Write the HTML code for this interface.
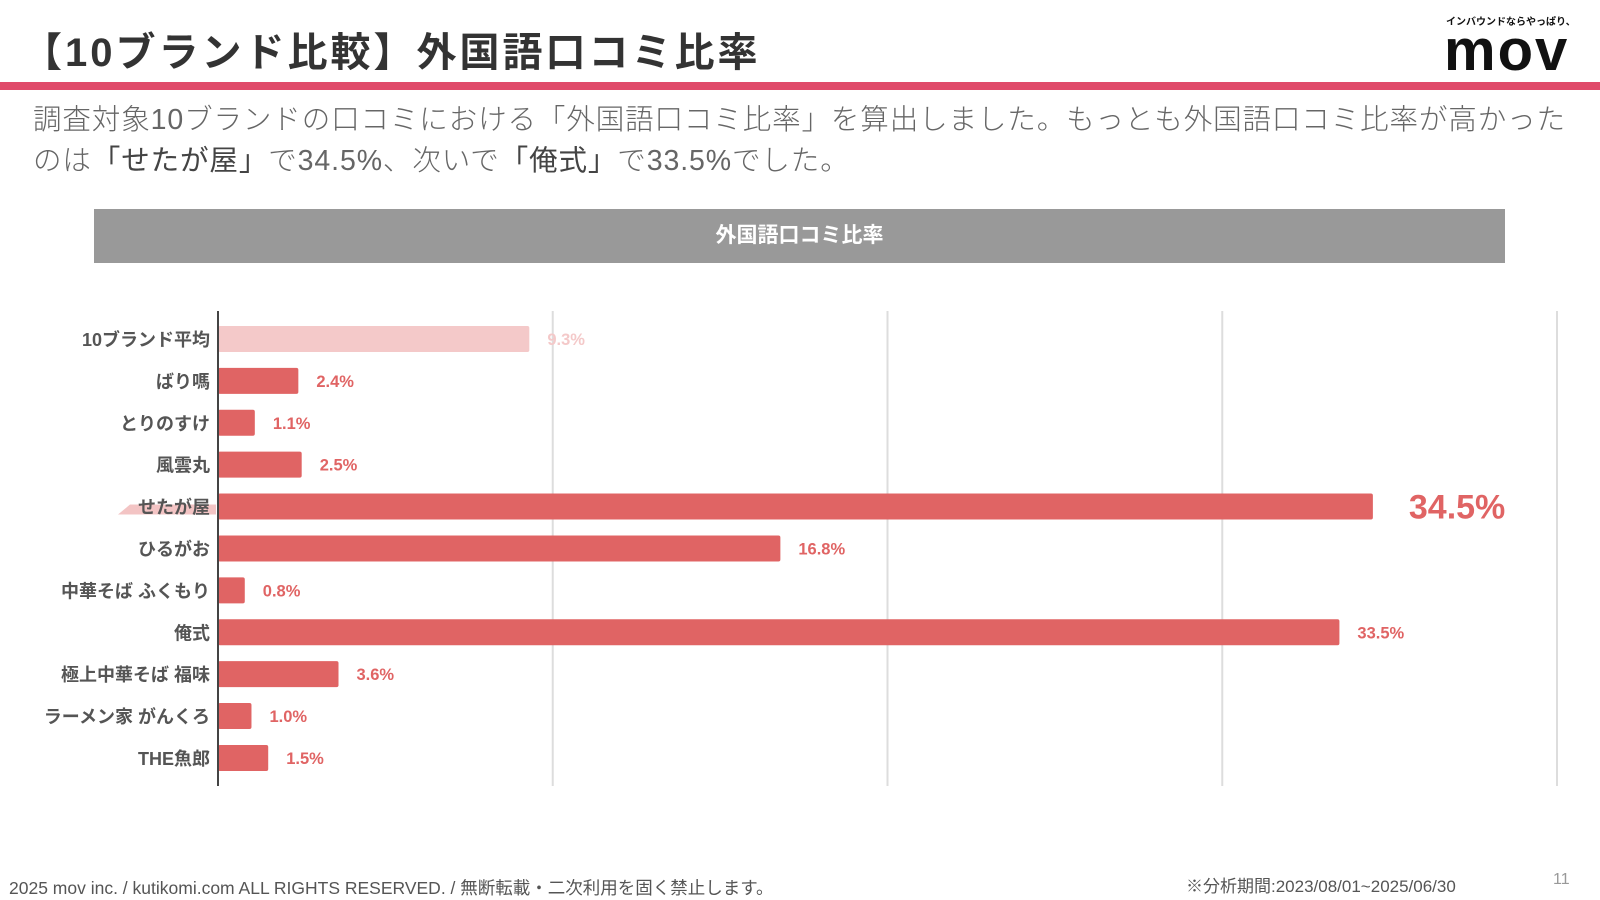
<!DOCTYPE html>
<html><head><meta charset="utf-8">
<style>
body{margin:0;width:1600px;height:900px;background:#fff;position:relative;overflow:hidden;font-family:"Liberation Sans","Noto Sans CJK JP",sans-serif;color:#444}
.abs{position:absolute}
</style></head><body>
<div class="abs" style="left:22px;top:20px;font-size:40px;font-weight:bold;color:#333;letter-spacing:3px">【10ブランド比較】外国語口コミ比率</div>
<div class="abs" style="left:1446px;top:13px;font-size:10px;font-weight:bold;color:#111">インバウンドならやっぱり、</div>
<div class="abs" style="left:1444px;top:16px;font-size:58px;font-weight:bold;color:#111;letter-spacing:2px;line-height:70px">mov</div>
<div class="abs" style="left:0;top:82px;width:1600px;height:8px;background:#e04a6a"></div>
<div class="abs" style="left:33px;top:100px;font-size:28.5px;line-height:41px;color:#666;font-weight:300;width:1570px;letter-spacing:0.9px">調査対象10ブランドの口コミにおける「外国語口コミ比率」を算出しました。もっとも外国語口コミ比率が高かった<br>のは<b style="color:#444">「せたが屋」</b>で34.5%、次いで<b style="color:#444">「俺式」</b>で33.5%でした。</div>
<div class="abs" style="left:94px;top:209px;width:1411px;height:54px;background:#999;color:#fff;font-size:21px;font-weight:bold;text-align:center;line-height:54px">外国語口コミ比率</div>
<svg class="abs" style="left:0;top:0" width="1600" height="900" id="chart"></svg>
<div class="abs" style="left:9px;top:875px;font-size:17.5px;color:#555">2025 mov inc. / kutikomi.com ALL RIGHTS RESERVED. / 無断転載・二次利用を固く禁止します。</div>
<div class="abs" style="left:1186px;top:872px;font-size:17px;color:#555">※分析期間:2023/08/01~2025/06/30</div>
<div class="abs" style="left:1553px;top:871px;font-size:16px;color:#999">11</div>
<script>
const categories=["10ブランド平均","ばり嗎","とりのすけ","風雲丸","せたが屋","ひるがお","中華そば ふくもり","俺式","極上中華そば 福味","ラーメン家 がんくろ","THE魚郎"];
const values=[9.3,2.4,1.1,2.5,34.5,16.8,0.8,33.5,3.6,1.0,1.5];
const ticks=[0,10,20,30,40];
const highlight="せたが屋";
const NS="http://www.w3.org/2000/svg";
const svg=document.getElementById('chart');
const x0=218,x1=1557,xmax=40,top0=318,step=41.9,bh=26;
const xs=v=>x0+(x1-x0)*v/xmax;
const yc=i=>top0+step*i+step/2;
function mk(t,a){const e=document.createElementNS(NS,t);for(const k in a)e.setAttribute(k,a[k]);svg.appendChild(e);return e;}
ticks.forEach((t,i)=>{if(t===0)return;const g=mk('line',{x1:xs(t),x2:xs(t),y1:311,y2:786,stroke:'#ddd','stroke-width':2});

});
categories.forEach((c,i)=>{
 const y=yc(i),avg=i===0,hi=c===highlight;
 if(hi){const p=mk('polygon',{points:`${118},${y+8} ${130},${y-2} ${216},${y-2} ${216},${y+8}`,fill:'#f3c4c4'});
 
 }
 const l=mk('text',{x:210,y:y+7,'text-anchor':'end','font-size':18,'font-weight':'bold',fill:'#555'});l.textContent=c;
 
 
 const r=mk('rect',{x:x0,y:y-bh/2,width:xs(values[i])-x0,height:bh,rx:2,fill:avg?'#f4c9c9':'#e06464'});
 
 
 const v=mk('text',{x:xs(values[i])+(hi?36:18),y:y+(hi?12:6),'font-size':hi?34:16.5,'font-weight':'bold',fill:avg?'#f4c9c9':'#e06464'});v.textContent=values[i].toFixed(1)+'%';
 
 
});
const ax=mk('line',{x1:x0,x2:x0,y1:311,y2:786,stroke:'#444','stroke-width':2});


</script>
</body></html>
